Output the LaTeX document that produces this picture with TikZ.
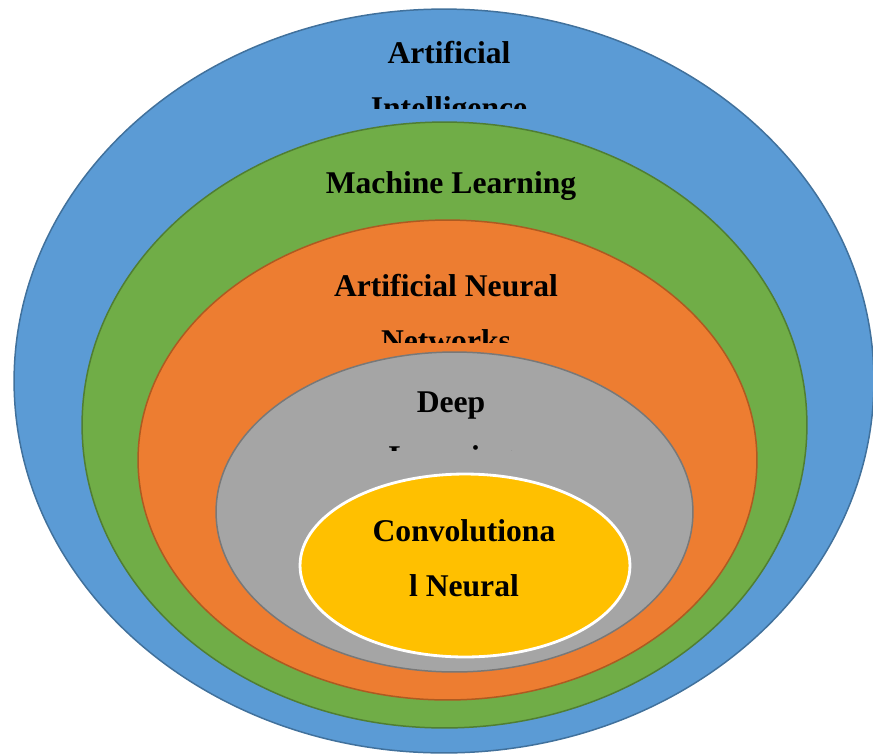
\documentclass[tikz,border=0pt]{standalone}
\usepackage{fontspec}
\setmainfont{Liberation Serif}
\usetikzlibrary{shapes.geometric}

\begin{document}
\begin{tikzpicture}[x=0.02cm,y=-0.02cm]

\tikzset{layer/.style={ellipse,inner sep=0pt,line width=0.85pt}}
% base of a two-line label is its last line
\tikzset{lbl/.style={font=\fontsize{18}{31.3}\selectfont\bfseries,align=center,anchor=base,inner sep=0pt}}

\useasboundingbox (0,0) rectangle (873,755);

% outer ring
\node[layer,draw={rgb,255:red,65;green,113;blue,156},fill={rgb,255:red,91;green,155;blue,213},minimum width=17.2cm,minimum height=14.88cm] (ai) at (444,381) {};
\begin{scope}
\clip (0,0) rectangle (873,108);
\node[lbl] (aitext) at (449,118) {Artificial\\Intelligence};
\end{scope}

\node[layer,draw={rgb,255:red,80;green,126;blue,50},fill={rgb,255:red,112;green,173;blue,71},minimum width=14.5cm,minimum height=12.12cm] (ml) at (444.5,425) {};
\node[lbl] (mltext) at (451,193) {Machine Learning};

\node[layer,draw={rgb,255:red,174;green,90;blue,33},fill={rgb,255:red,237;green,125;blue,49},minimum width=12.38cm,minimum height=9.6cm] (ann) at (447.5,460) {};
\begin{scope}
\clip (0,0) rectangle (873,342);
\node[lbl] (anntext) at (446,351) {Artificial Neural\\Networks};
\end{scope}

\node[layer,draw={rgb,255:red,120;green,120;blue,120},fill={rgb,255:red,165;green,165;blue,165},minimum width=9.54cm,minimum height=6.4cm] (dl) at (454.5,512) {};
\begin{scope}
\clip (0,0) rectangle (873,450);
\node[lbl] (dltext) at (451,467) {Deep\\Learning};
\end{scope}

% innermost
\node[layer,draw=white,line width=1.6pt,fill={rgb,255:red,255;green,192;blue,0},minimum width=6.6cm,minimum height=3.66cm] (cnn) at (465,565.5) {};
\node[lbl] (cnntext) at (464,596) {Convolutiona\\l Neural};

\end{tikzpicture}
\end{document}
